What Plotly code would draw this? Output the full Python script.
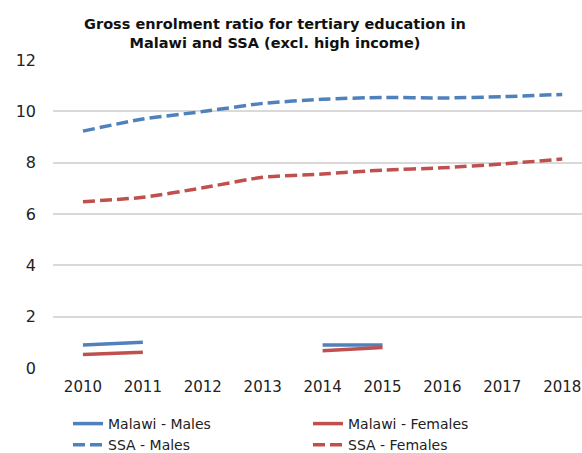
import plotly.graph_objects as go

years = [2010, 2011, 2012, 2013, 2014, 2015, 2016, 2017, 2018]
malawi_males = [0.90, 1.00, None, None, 0.90, 0.90, None, None, None]
malawi_females = [0.53, 0.61, None, None, 0.67, 0.80, None, None, None]
ssa_males = [9.23, 9.70, 9.99, 10.31, 10.47, 10.54, 10.52, 10.57, 10.66]
ssa_females = [6.48, 6.65, 7.02, 7.43, 7.56, 7.71, 7.80, 7.95, 8.14]

BLUE = "#4F81BD"
RED = "#C0504D"
FONT = "DejaVu Sans"

fig = go.Figure()
series = [
    ("Malawi - Males", malawi_males, BLUE, "solid"),
    ("Malawi - Females", malawi_females, RED, "solid"),
    ("SSA - Males", ssa_males, BLUE, "12px,5px"),
    ("SSA - Females", ssa_females, RED, "12px,5px"),
]
for name, vals, col, dash in series:
    fig.add_trace(go.Scatter(
        x=years, y=vals, name=name, mode="lines",
        line=dict(color=col, width=3.5, dash=dash, shape="spline", smoothing=0.6),
        connectgaps=False,
    ))

fig.update_layout(
    width=582, height=453,
    margin=dict(l=53, r=0, t=60, b=85),
    paper_bgcolor="white", plot_bgcolor="white",
    font=dict(family=FONT, color="#222222", size=15),
    title=dict(
        text="<b>Gross enrolment ratio for tertiary education in<br>Malawi and SSA (excl. high income)</b>",
        x=275/582, xanchor="center", xref="container",
        y=1 - 29/453, yanchor="top", yref="container",
        font=dict(family=FONT, size=14.5, color="#111111"),
    ),
    xaxis=dict(
        range=[2009.5, 2018.33], tickmode="array", tickvals=years,
        ticktext=[str(y) for y in years],
        showgrid=False, zeroline=False, showline=False, ticks="",
        ticklabelstandoff=8,
        tickfont=dict(size=15),
    ),
    yaxis=dict(
        range=[0, 12], tickvals=[0, 2, 4, 6, 8, 10, 12],
        showgrid=True, gridcolor="#D9D9D9", gridwidth=1.5,
        zeroline=False, showline=False, ticks="",
        ticklabelstandoff=16, tickfont=dict(size=16),
    ),
    legend=dict(
        orientation="h", xref="container", yref="container",
        x=68/582, y=1 - 408/453, xanchor="left", yanchor="top",
        entrywidth=195, font=dict(size=14), traceorder="normal",
        tracegroupgap=0,
    ),
    showlegend=True,
)

fig.write_html("out.html")
